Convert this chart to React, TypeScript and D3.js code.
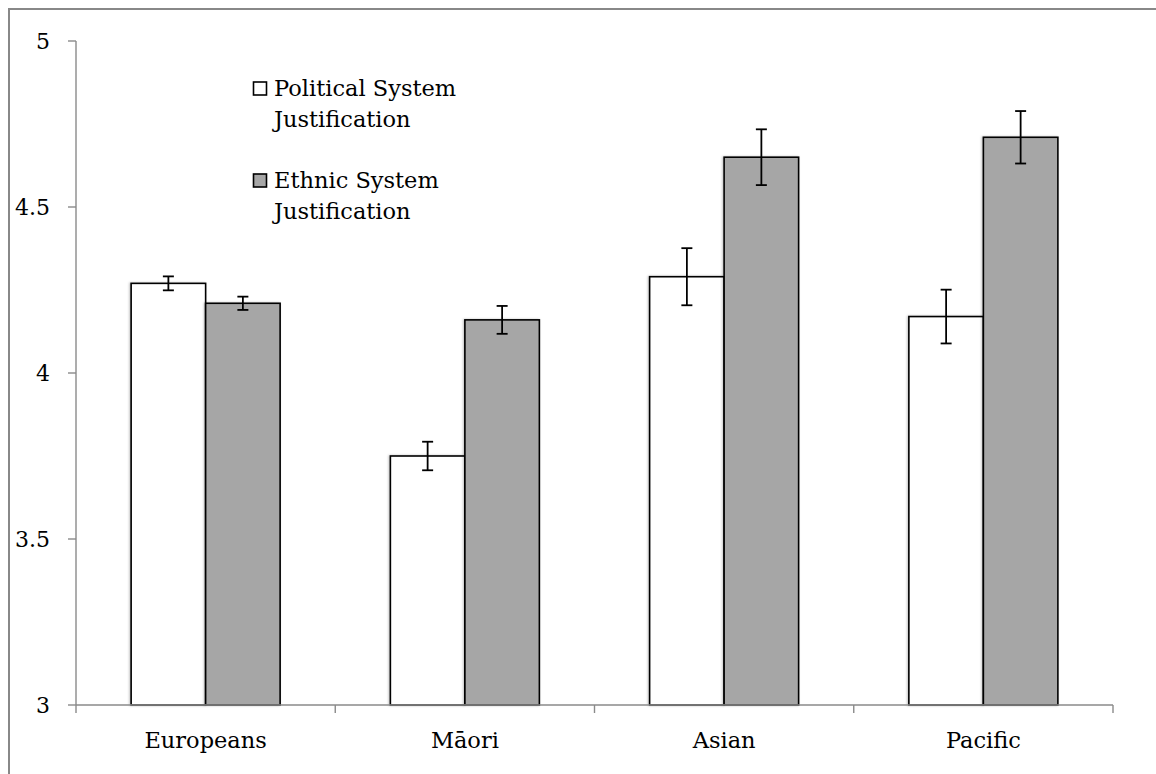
import React from "react";
import * as d3 from "d3";

const categories = ["Europeans", "Māori", "Asian", "Pacific"];
const seriesNames = ["Political System Justification", "Ethnic System Justification"];
const politicalMeans = [4.27, 3.75, 4.29, 4.17];
const politicalErrors = [0.021, 0.043, 0.086, 0.081];
const ethnicMeans = [4.21, 4.16, 4.65, 4.71];
const ethnicErrors = [0.02, 0.042, 0.084, 0.079];
const yTicks = [3, 3.5, 4, 4.5, 5];
const legendLines = [["Political System", "Justification"], ["Ethnic System", "Justification"]];

const W = 1156;
const H = 774;
const FONT = "'DejaVu Serif', serif";
const fills = ["#ffffff", "#a6a6a6"];
const axisColor = "#8a8a8a";

export default function App() {
  const x = d3.scaleBand<string>().domain(categories).range([76, 1113]).paddingInner(0).paddingOuter(0);
  const bw = x.bandwidth();
  const inner = d3.scaleBand<string>().domain(seriesNames).range([0, bw]).paddingInner(0).paddingOuter(0.74);
  const y = d3.scaleLinear().domain([3, 5]).range([705, 41]);

  const series = [
    { name: seriesNames[0], means: politicalMeans, errs: politicalErrors },
    { name: seriesNames[1], means: ethnicMeans, errs: ethnicErrors },
  ];

  const boundaries = [...categories.map((c) => x(c)!), x(categories[categories.length - 1])! + bw];

  return (
    <svg
      width={W}
      height={H}
      style={{ position: "fixed", left: 0, top: 0, background: "#fff" }}
      fontFamily={FONT}
    >
      <defs>
        <filter id="sh" x="-10%" y="-10%" width="120%" height="120%">
          <feDropShadow dx="-1" dy="0" stdDeviation="1.2" floodColor="#000" floodOpacity="0.25" />
        </filter>
      </defs>
      <rect x={0} y={0} width={W} height={H} fill="#fff" />
      <rect x={9} y={9} width={W + 20} height={H + 20} fill="none" stroke="#888" strokeWidth={2} />

      {/* bars */}
      {series.map((s, si) =>
        categories.map((c, ci) => {
          const bx = x(c)! + inner(s.name)!;
          const top = y(s.means[ci]);
          return (
            <rect
              key={`b${si}-${ci}`}
              x={bx}
              y={top}
              width={inner.bandwidth()}
              height={y(3) - top}
              fill={fills[si]}
              stroke="#000"
              strokeWidth={1.6}
              filter="url(#sh)"
            />
          );
        })
      )}

      {/* axes */}
      <line x1={76} x2={76} y1={y(5)} y2={y(3)} stroke={axisColor} strokeWidth={1.4} />
      <line x1={76} x2={1113} y1={y(3)} y2={y(3)} stroke={axisColor} strokeWidth={1.4} />
      {yTicks.map((t) => (
        <g key={`yt${t}`}>
          <line x1={68} x2={76} y1={y(t)} y2={y(t)} stroke={axisColor} strokeWidth={1.4} />
          <text x={50} y={y(t)} dy="0.36em" textAnchor="end" fontSize={22} fill="#000">
            {String(t)}
          </text>
        </g>
      ))}
      {boundaries.map((b, i) => (
        <line key={`xt${i}`} x1={b} x2={b} y1={y(3)} y2={y(3) + 8} stroke={axisColor} strokeWidth={1.4} />
      ))}
      {categories.map((c) => (
        <text key={`xl${c}`} x={x(c)! + bw / 2} y={748} textAnchor="middle" fontSize={22.5} fill="#000">
          {c}
        </text>
      ))}

      {/* error bars */}
      {series.map((s, si) =>
        categories.map((c, ci) => {
          const cx = x(c)! + inner(s.name)! + inner.bandwidth() / 2;
          const hi = y(s.means[ci] + s.errs[ci]);
          const lo = y(s.means[ci] - s.errs[ci]);
          return (
            <g key={`e${si}-${ci}`} stroke="#000" strokeWidth={1.8}>
              <line x1={cx} x2={cx} y1={hi} y2={lo} />
              <line x1={cx - 5.5} x2={cx + 5.5} y1={hi} y2={hi} />
              <line x1={cx - 5.5} x2={cx + 5.5} y1={lo} y2={lo} />
            </g>
          );
        })
      )}

      {/* legend */}
      {legendLines.map((lines, i) => {
        const base = 96 + i * 92;
        return (
          <g key={`lg${i}`}>
            <rect x={253.5} y={base - 14} width={13} height={13} fill={fills[i]} stroke="#000" strokeWidth={1.6} />
            {lines.map((ln, li) => (
              <text key={li} x={274} y={base + li * 31} fontSize={22.5} fill="#000">
                {ln}
              </text>
            ))}
          </g>
        );
      })}
    </svg>
  );
}
